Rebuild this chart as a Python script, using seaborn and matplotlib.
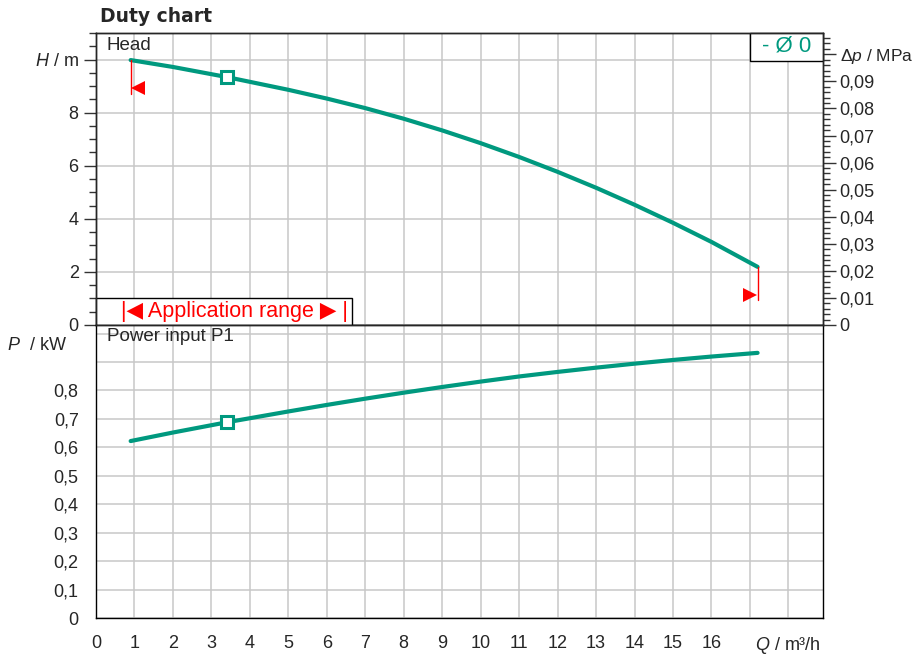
import numpy as np
import pandas as pd
import seaborn as sns
import matplotlib.pyplot as plt
from matplotlib.ticker import MultipleLocator, FixedLocator

# curve readings (Q in m3/h)
q_head = [0.9, 2.0, 3.4, 5.0, 6.0, 7.0, 8.0, 9.0, 10.0, 11.0, 12.0, 13.0, 14.0, 15.0, 16.0, 17.2]
head_m = [9.98, 9.72, 9.34, 8.86, 8.53, 8.17, 7.77, 7.33, 6.85, 6.33, 5.77, 5.17, 4.53, 3.85, 3.13, 2.19]

q_power = [0.9, 2.0, 3.4, 5.0, 6.0, 7.0, 8.0, 9.0, 10.0, 11.0, 12.0, 13.0, 14.0, 15.0, 16.0, 17.2]
power_kw = [0.622, 0.652, 0.688, 0.726, 0.749, 0.771, 0.792, 0.812, 0.831, 0.849, 0.865, 0.880, 0.894, 0.907, 0.919, 0.932]

duty_q = 3.4
duty_h = 9.34
duty_p = 0.688

q_min, q_max = 0.9, 17.2
q_ticks = list(range(0, 19))
h_ticks = [0, 2, 4, 6, 8, 10]
dp_ticks = [0, 0.01, 0.02, 0.03, 0.04, 0.05, 0.06, 0.07, 0.08, 0.09, 0.10]
p_ticks = [0, 0.1, 0.2, 0.3, 0.4, 0.5, 0.6, 0.7, 0.8, 0.9, 1.0]

TEAL = "#00997f"
M_PER_MPA = 101.97
TICK_FS = 13

sns.set_style("white")
plt.rcParams['font.family'] = ['Liberation Sans', 'DejaVu Sans']
plt.rcParams['mathtext.fontset'] = 'custom'
plt.rcParams['mathtext.it'] = 'Liberation Sans:italic'
plt.rcParams['mathtext.rm'] = 'Liberation Sans'

fig = plt.figure(figsize=(9.19, 6.56), dpi=100)
ax_h = fig.add_axes([0.1045, 0.5046, 0.791, 0.4451])
ax_p = fig.add_axes([0.1045, 0.0579, 0.791, 0.4467])

df_h = pd.DataFrame({"Q": q_head, "H": head_m})
df_p = pd.DataFrame({"Q": q_power, "P": power_kw})

sns.lineplot(data=df_h, x="Q", y="H", ax=ax_h, color=TEAL, lw=3, zorder=4)
sns.lineplot(data=df_p, x="Q", y="P", ax=ax_p, color=TEAL, lw=3, zorder=4)
for ax, y in ((ax_h, duty_h), (ax_p, duty_p)):
    ax.plot([duty_q], [y], marker="s", ms=8, mfc="white", mec=TEAL, mew=2.2, zorder=5)

grid_kw = dict(color="#c8c8c8", lw=1.1)
for ax in (ax_h, ax_p):
    ax.set_xlim(0, 18.9)
    ax.xaxis.set_major_locator(FixedLocator(q_ticks))
    ax.xaxis.set_minor_locator(MultipleLocator(0.2))
    ax.grid(True, axis="both", which="major", **grid_kw)
    ax.set_xlabel("")
    ax.set_ylabel("")
    for s in ax.spines.values():
        s.set_color("black")
        s.set_linewidth(1.0)
    ax.tick_params(which="major", direction="out", length=9, width=1, labelsize=TICK_FS, color="#333333")
    ax.tick_params(which="minor", direction="out", length=5, width=1, color="#333333")

# head panel
ax_h.set_ylim(0, 11)
ax_h.yaxis.set_major_locator(FixedLocator(h_ticks))
ax_h.yaxis.set_minor_locator(MultipleLocator(0.5))
ax_h.set_yticklabels(["0", "2", "4", "6", "8", "$H$ / m"])
ax_h.tick_params(axis="x", which="both", bottom=False, labelbottom=False)

ax_dp = ax_h.twinx()
ax_dp.set_ylim(0, 11 / M_PER_MPA)
ax_dp.yaxis.set_major_locator(FixedLocator(dp_ticks))
ax_dp.yaxis.set_minor_locator(MultipleLocator(0.002))
dp_labels = ["0"] + [f"{v:.2f}".replace(".", ",") for v in dp_ticks[1:-1]] + [r"$\Delta p$ / MPa"]
ax_dp.set_yticklabels(dp_labels)
ax_dp.tick_params(which="major", direction="out", length=9, width=1, labelsize=TICK_FS,
                  color="#333333", pad=3)
ax_dp.tick_params(which="minor", direction="out", length=5, width=1, color="#333333")
ax_dp.get_yticklabels()[-1].set_fontsize(12.5)
ax_dp.grid(False)
for s in ax_dp.spines.values():
    s.set_linewidth(1.0)

ax_h.text(0.015, 0.988, "Head", transform=ax_h.transAxes, ha="left", va="top", fontsize=13.5)

# application range markers
ax_h.plot([q_min, q_min], [head_m[0], 8.7], color="red", lw=1, zorder=6)
ax_h.plot([q_max, q_max], [head_m[-1], 0.95], color="red", lw=1, zorder=6)
ax_h.plot([q_min + 0.2], [8.93], marker="<", ms=10, color="red", mew=0, zorder=6)
ax_h.plot([q_max - 0.2], [1.13], marker=">", ms=10, color="red", mew=0, zorder=6)

ax_h.add_patch(plt.Rectangle((0, 0), 6.65, 1.02, facecolor="white", edgecolor="black",
                             lw=1, zorder=7, clip_on=False))
ax_h.text(3.6, 0.5, "|◀ Application range ▶ |", ha="center", va="center",
          fontsize=15.5, color="red", zorder=8, family=["Liberation Sans", "DejaVu Sans"])

# legend box
ax_h.add_patch(plt.Rectangle((17.0, 9.93), 1.9, 1.07, facecolor="white", edgecolor="black",
                             lw=1, zorder=7, clip_on=False))
ax_h.text(17.95, 10.5, "- Ø 0", ha="center", va="center", fontsize=16, color=TEAL, zorder=8)

# power panel
ax_p.set_ylim(0, 1.03)
ax_p.yaxis.set_major_locator(FixedLocator(p_ticks))
ax_p.yaxis.set_minor_locator(MultipleLocator(0.02))
ax_p.set_yticklabels(["0"] + [f"{v:.1f}".replace(".", ",") for v in p_ticks[1:9]] + ["", ""])
ax_p.set_xticklabels([str(q) for q in q_ticks[:17]] + ["", "$Q$ / m³/h"])
ax_p.text(-0.122, 0.93, "$P$  / kW", transform=ax_p.transAxes, ha="left", va="center", fontsize=TICK_FS)
ax_p.text(0.015, 0.988, "Power input P1", transform=ax_p.transAxes, ha="left", va="top", fontsize=13.5)

fig.text(0.109, 0.975, "Duty chart", ha="left", va="center", fontsize=13.5,
         fontweight="bold", family="DejaVu Sans")

fig.savefig("out.png", dpi=100)
